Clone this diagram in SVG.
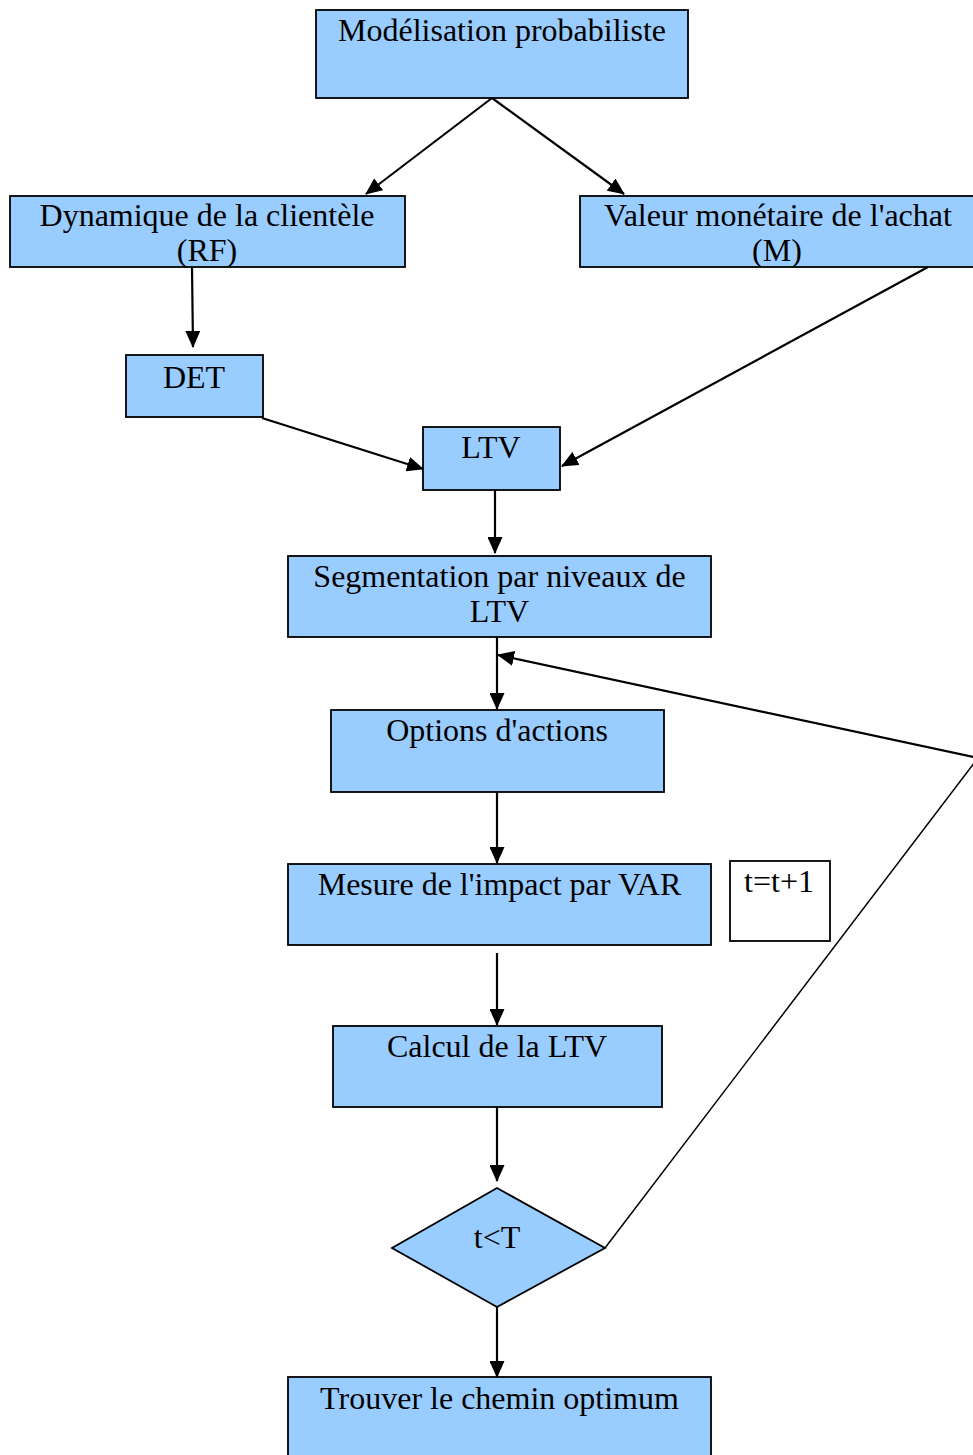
<svg xmlns="http://www.w3.org/2000/svg" width="973" height="1455" viewBox="0 0 973 1455">
<style>
.box{fill:#99CCFF;stroke:#000;stroke-width:1.8}
.plain{fill:#fff;stroke:#000;stroke-width:1.8}
.t{font-family:"Liberation Serif","Times New Roman",serif;font-size:32px;fill:#000;text-anchor:middle}
.c{fill:none;stroke:#000;stroke-width:2.2}
.thin{fill:none;stroke:#000;stroke-width:1.5}
</style>
<defs>
<marker id="ah" markerUnits="userSpaceOnUse" markerWidth="17" markerHeight="15" refX="16" refY="7.5" orient="auto">
<path d="M0,0 L17,7.5 L0,15 Z" fill="#000"/>
</marker>
</defs>
<rect width="973" height="1455" fill="#fff"/>
<g id="connectors">
<line class="c" x1="492" y1="98" x2="366" y2="194" marker-end="url(#ah)"/>
<line class="c" x1="492" y1="98" x2="624" y2="194" marker-end="url(#ah)"/>
<line class="c" x1="192" y1="267" x2="193" y2="347" marker-end="url(#ah)"/>
<line class="c" x1="262" y1="418" x2="423" y2="469" marker-end="url(#ah)"/>
<line class="c" x1="928" y1="267" x2="562" y2="466" marker-end="url(#ah)"/>
<line class="c" x1="495" y1="490" x2="495" y2="553" marker-end="url(#ah)"/>
<line class="c" x1="497" y1="637" x2="497" y2="709" marker-end="url(#ah)"/>
<line class="c" x1="497" y1="792" x2="497" y2="863" marker-end="url(#ah)"/>
<line class="c" x1="497" y1="953" x2="497" y2="1025" marker-end="url(#ah)"/>
<line class="c" x1="497" y1="1107" x2="497" y2="1181" marker-end="url(#ah)"/>
<line class="c" x1="497" y1="1307" x2="497" y2="1377" marker-end="url(#ah)"/>
<polyline class="thin" points="605,1248 978,758"/>
<line class="c" x1="978" y1="758" x2="498" y2="655" marker-end="url(#ah)"/>
</g>
<g id="n1"><rect class="box" x="316" y="10" width="372" height="88"/><text class="t" x="502" y="41">Modélisation probabiliste</text></g>
<g id="n2"><rect class="box" x="10" y="196" width="395" height="71"/><text class="t" x="207" y="226">Dynamique de la clientèle</text><text class="t" x="207" y="261">(RF)</text></g>
<g id="n3"><rect class="box" x="580" y="196" width="395" height="71"/><text class="t" x="778" y="226">Valeur monétaire de l'achat</text><text class="t" x="777" y="261">(M)</text></g>
<g id="n4"><rect class="box" x="126" y="355" width="137" height="62"/><text class="t" x="194" y="388">DET</text></g>
<g id="n5"><rect class="box" x="423" y="427" width="137" height="63"/><text class="t" x="491" y="458">LTV</text></g>
<g id="n6"><rect class="box" x="288" y="556" width="423" height="81"/><text class="t" x="499.5" y="587">Segmentation par niveaux de</text><text class="t" x="499.5" y="622">LTV</text></g>
<g id="n7"><rect class="box" x="331" y="710" width="333" height="82"/><text class="t" x="497" y="741">Options d'actions</text></g>
<g id="n8"><rect class="box" x="288" y="864" width="423" height="81"/><text class="t" x="499.5" y="895">Mesure de l'impact par VAR</text></g>
<g id="n9"><rect class="plain" x="730" y="861" width="100" height="80"/><text class="t" x="779" y="892">t=t+1</text></g>
<g id="n10"><rect class="box" x="333" y="1026" width="329" height="81"/><text class="t" x="497" y="1057">Calcul de la LTV</text></g>
<g id="n11"><polygon class="box" points="497,1188 605,1248 497,1307 392,1248"/><text class="t" x="497" y="1248">t&lt;T</text></g>
<g id="n12"><rect class="box" x="288" y="1377" width="423" height="90"/><text class="t" x="499.5" y="1409">Trouver le chemin optimum</text></g>
</svg>
